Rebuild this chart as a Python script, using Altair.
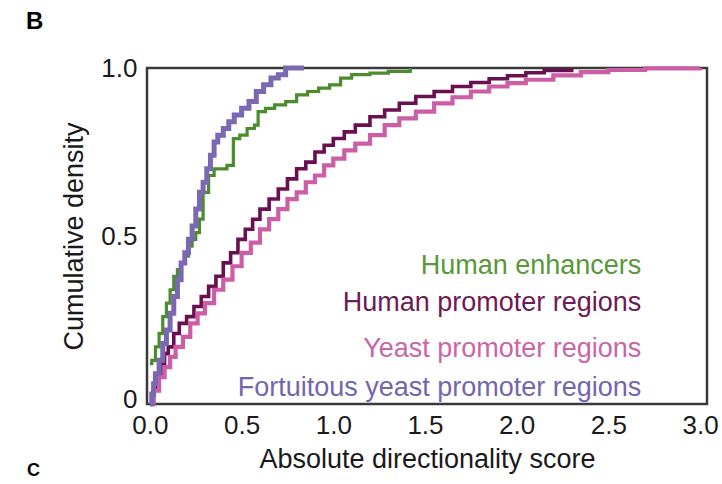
import altair as alt
import pandas as pd

# ---- data ----
series_names = ["Human enhancers", "Human promoter regions",
                "Yeast promoter regions", "Fortuitous yeast promoter regions"]
series_colors = ["#4c8c2c", "#6a0f4f", "#cc5ea6", "#7a68b2"]
label_colors = ["#579839", "#6e1a55", "#c866a8", "#7466ad"]
series_widths = [3.2, 3.6, 4.2, 5.0]

he_x = [0.0, 0.01, 0.03, 0.05, 0.07, 0.09, 0.11, 0.13, 0.15, 0.17, 0.19, 0.21,
        0.23, 0.25, 0.27, 0.29, 0.32, 0.35, 0.38, 0.42, 0.455, 0.49, 0.53, 0.57,
        0.59, 0.63, 0.68, 0.74, 0.80, 0.86, 0.92, 0.98, 1.04, 1.10, 1.20, 1.30, 1.42]
he_y = [0.12, 0.13, 0.17, 0.21, 0.26, 0.30, 0.34, 0.38, 0.40, 0.42, 0.44, 0.47,
        0.49, 0.51, 0.55, 0.63, 0.68, 0.70, 0.70, 0.71, 0.79, 0.80, 0.82, 0.83,
        0.87, 0.88, 0.89, 0.90, 0.92, 0.93, 0.94, 0.95, 0.97, 0.98, 0.985, 0.99, 1.0]

hp_x = [0.0, 0.02, 0.04, 0.06, 0.08, 0.10, 0.13, 0.16, 0.20, 0.24, 0.28, 0.32,
        0.36, 0.40, 0.44, 0.48, 0.52, 0.56, 0.60, 0.65, 0.70, 0.75, 0.80, 0.85,
        0.90, 0.95, 1.00, 1.06, 1.12, 1.20, 1.28, 1.36, 1.45, 1.55, 1.65, 1.75,
        1.85, 1.95, 2.05, 2.15, 2.30]
hp_y = [0.0, 0.05, 0.09, 0.12, 0.15, 0.17, 0.21, 0.24, 0.26, 0.29, 0.32, 0.35,
        0.38, 0.42, 0.45, 0.49, 0.52, 0.55, 0.58, 0.61, 0.64, 0.67, 0.70, 0.72,
        0.75, 0.77, 0.79, 0.81, 0.83, 0.855, 0.875, 0.895, 0.915, 0.93, 0.945,
        0.957, 0.968, 0.977, 0.986, 0.993, 1.0]

yp_x = [0.0, 0.02, 0.05, 0.08, 0.11, 0.14, 0.18, 0.22, 0.26, 0.30, 0.35, 0.40,
        0.45, 0.50, 0.55, 0.60, 0.65, 0.70, 0.75, 0.80, 0.85, 0.90, 0.95, 1.00,
        1.06, 1.12, 1.20, 1.28, 1.36, 1.45, 1.55, 1.65, 1.75, 1.85, 1.95, 2.05,
        2.20, 2.35, 2.50, 2.70, 3.00]
yp_y = [0.0, 0.04, 0.08, 0.11, 0.14, 0.17, 0.20, 0.24, 0.27, 0.30, 0.34, 0.37,
        0.41, 0.45, 0.48, 0.52, 0.55, 0.58, 0.61, 0.63, 0.66, 0.68, 0.71, 0.73,
        0.755, 0.775, 0.80, 0.83, 0.85, 0.87, 0.895, 0.913, 0.93, 0.945, 0.955,
        0.965, 0.978, 0.988, 0.994, 0.999, 1.0]

fy_x = [0.0, 0.01, 0.02, 0.03, 0.05, 0.07, 0.09, 0.11, 0.13, 0.15, 0.17, 0.19,
        0.21, 0.23, 0.25, 0.27, 0.29, 0.31, 0.33, 0.35, 0.37, 0.40, 0.43, 0.46,
        0.50, 0.54, 0.58, 0.62, 0.66, 0.70, 0.74, 0.78, 0.84]
fy_y = [0.0, 0.03, 0.06, 0.09, 0.13, 0.18, 0.22, 0.27, 0.32, 0.37, 0.42, 0.45,
        0.49, 0.53, 0.58, 0.63, 0.66, 0.70, 0.74, 0.78, 0.80, 0.82, 0.84, 0.86,
        0.88, 0.90, 0.93, 0.95, 0.97, 0.98, 1.0, 1.0, 1.0]

label_x = [2.68, 2.68, 2.68, 2.68]
label_y = [0.411, 0.300, 0.164, 0.048]

x_ticks = [0.0, 0.5, 1.0, 1.5, 2.0, 2.5, 3.0]
y_ticks = [0.0, 0.5, 1.0]

FONT = "Liberation Sans"

xs_all = [he_x, hp_x, yp_x, fy_x]
ys_all = [he_y, hp_y, yp_y, fy_y]

x_scale = alt.Scale(domain=[-0.016, 3.038], nice=False, zero=False)
y_scale = alt.Scale(domain=[0, 1], nice=False)

x_axis = alt.Axis(values=x_ticks, format=".1f", title="Absolute directionality score",
                  labelPadding=8, titlePadding=8)
y_axis = alt.Axis(values=y_ticks, title="Cumulative density",
                  labelExpr="datum.value == 0 ? '0' : format(datum.value, '.1f')",
                  labelOffset={"condition": {"test": "datum.value == 0", "value": -5},
                               "value": 0},
                  labelPadding=10, titlePadding=12)

layers = []
for i, name in enumerate(series_names):
    df = pd.DataFrame({"score": xs_all[i], "cdf": ys_all[i], "series": name})
    layers.append(
        alt.Chart(df).mark_line(interpolate="step-after", color=series_colors[i],
                                strokeWidth=series_widths[i], strokeJoin="miter")
        .encode(x=alt.X("score:Q", scale=x_scale, axis=x_axis),
                y=alt.Y("cdf:Q", scale=y_scale, axis=y_axis))
    )

lab_df = pd.DataFrame({"label": series_names, "score": label_x, "cdf": label_y,
                       "col": label_colors})
labels = alt.Chart(lab_df).mark_text(align="right", baseline="middle",
                                     font=FONT, fontSize=27).encode(
    x=alt.X("score:Q", scale=x_scale, axis=x_axis),
    y=alt.Y("cdf:Q", scale=y_scale, axis=y_axis),
    text="label:N",
    color=alt.Color("col:N", scale=None),
)

panel_df = pd.DataFrame({"letter": ["B", "C"]})
letter_b = alt.Chart(panel_df[panel_df.letter == "B"]).mark_text(
    font=FONT, fontSize=24, fontWeight="bold", align="left", baseline="top"
).encode(text="letter:N", x=alt.value(-121), y=alt.value(-58))
letter_c = alt.Chart(panel_df[panel_df.letter == "C"]).mark_text(
    font=FONT, fontSize=18, fontWeight="bold", align="left", baseline="top"
).encode(text="letter:N", x=alt.value(-120), y=alt.value(394))

chart = alt.layer(*layers, labels, letter_b, letter_c).properties(
    width=560, height=336,
    autosize=alt.AutoSizeParams(type="none"),
    padding={"left": 147, "top": 68, "right": 15, "bottom": 80},
    background="white",
).configure_view(
    stroke="#3a3a3a", strokeWidth=2.5
).configure_axis(
    domain=False, ticks=False, grid=False,
    labelFont=FONT, labelFontSize=26, labelColor="#1a1a1a",
    titleFont=FONT, titleFontSize=27, titleFontWeight="normal", titleColor="#1a1a1a",
)

chart.save("out.html", embed_options={"renderer": "svg", "actions": False})
